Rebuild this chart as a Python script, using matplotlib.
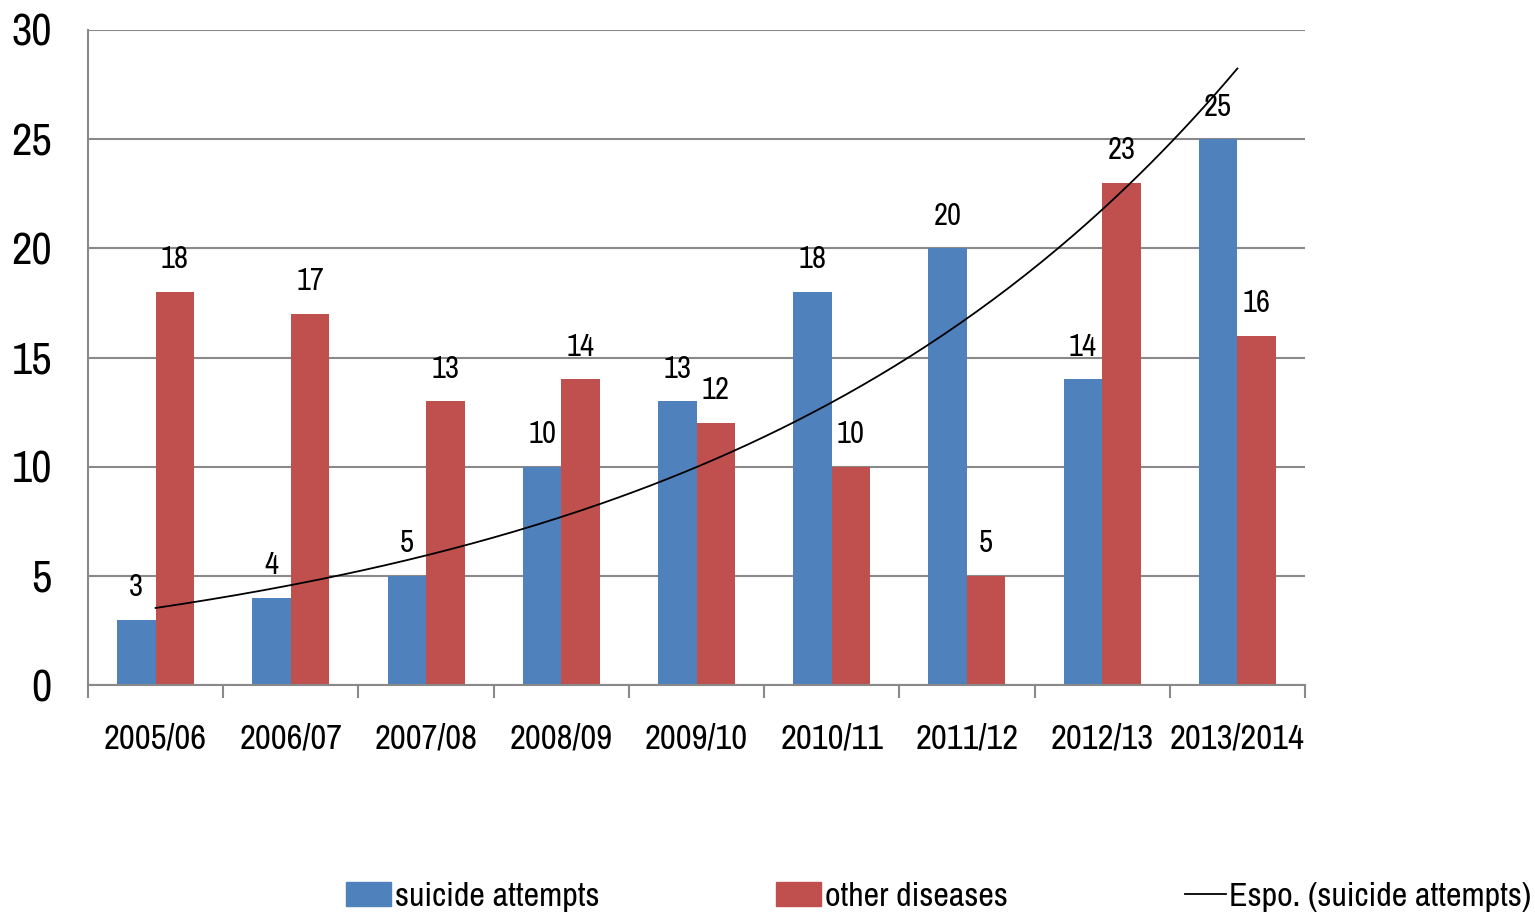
import matplotlib
matplotlib.use('Agg')
import matplotlib.pyplot as plt
import numpy as np
from matplotlib.patches import Patch
from matplotlib.lines import Line2D

plt.rcParams['font.family'] = ['Archivo Narrow', 'DejaVu Sans']

seasons = ['2005/06', '2006/07', '2007/08', '2008/09', '2009/10',
           '2010/11', '2011/12', '2012/13', '2013/2014']
suicide = [3, 4, 5, 10, 13, 18, 20, 14, 25]
other = [18, 17, 13, 14, 12, 10, 5, 23, 16]

BLUE = '#4F81BD'
RED = '#C0504D'
GRID = '#898989'

fig = plt.figure(figsize=(15.35, 9.16), dpi=100)
ax = fig.add_axes([88 / 1535, 1 - 685 / 916, 1217 / 1535, 655 / 916])

x = np.arange(len(seasons))
w = 0.285
b1 = ax.bar(x - w / 2, suicide, w, color=BLUE, zorder=2)
b2 = ax.bar(x + w / 2, other, w, color=RED, zorder=2)

for rect, v in zip(list(b1) + list(b2), suicide + other):
    ax.text(rect.get_x() + rect.get_width() / 2, v + 0.85, str(v),
            ha='center', va='bottom', fontsize=22)

# exponential trendline (log-linear fit, like Excel)
xi = x + 1
coef = np.polyfit(xi, np.log(suicide), 1)
xs = np.linspace(xi[0], xi[-1], 200)
ax.plot(xs - 1, np.exp(coef[1]) * np.exp(coef[0] * xs), color='black',
        lw=1.3, zorder=3)

ax.set_xlim(-0.5, len(seasons) - 0.5)
ax.set_ylim(0, 30)
ax.set_yticks(range(0, 31, 5))
ax.yaxis.grid(True, color=GRID, lw=1.5, zorder=0)
ax.set_axisbelow(True)

for s in ['top', 'right']:
    ax.spines[s].set_visible(False)
ax.spines['left'].set_color(GRID)
ax.spines['bottom'].set_color(GRID)
ax.spines['left'].set_linewidth(1.5)
ax.spines['bottom'].set_linewidth(1.5)

ax.set_xticks(x)
ax.set_xticklabels(seasons, fontsize=25)
ax.set_xticks(np.arange(-0.5, len(seasons)), minor=True)
ax.tick_params(axis='x', which='major', length=0, pad=27)
ax.tick_params(axis='x', which='minor', length=9, width=1.5, color=GRID)
ax.tick_params(axis='y', length=0, labelsize=32, pad=26)

# legend entries placed one by one, as in the original layout
entries = [(Patch(color=BLUE), 'suicide attempts', 346, 1.33),
           (Patch(color=RED), 'other diseases', 776, 1.33),
           (Line2D([0], [0], color='black', lw=1.3), 'Espo. (suicide attempts)', 1185, 1.2)]
for h, lab, px, hl in entries:
    fig.legend([h], [lab], loc='center left',
               bbox_to_anchor=(px / 1535, 1 - 897 / 916),
               frameon=False, fontsize=24.5, handlelength=hl,
               handletextpad=0.1, borderpad=0, borderaxespad=0)

fig.savefig('out.png', dpi=100)
